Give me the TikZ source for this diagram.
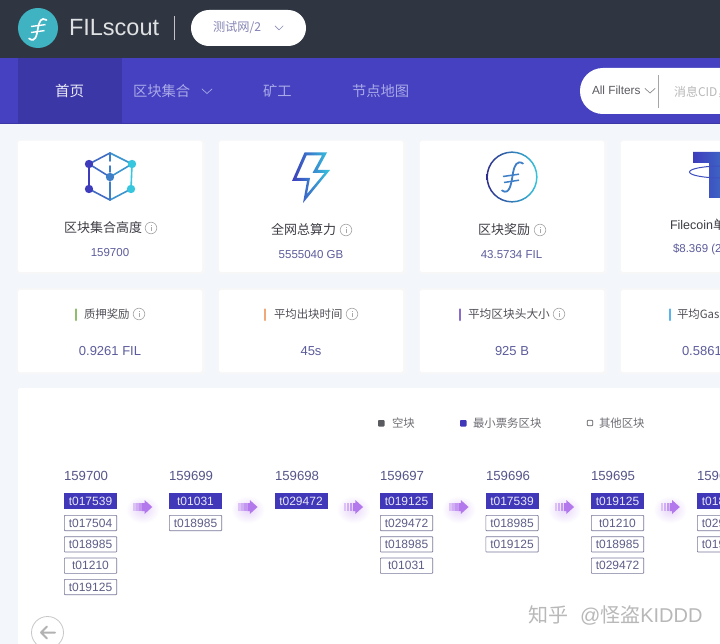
\documentclass[tikz,border=0pt]{standalone}
\usepackage{fontspec}
\setmainfont{Liberation Sans}
\newfontfamily\cjk{Noto Sans CJK SC}
\usetikzlibrary{calc}
\definecolor{bgpage}{HTML}{F3F6FB}
\definecolor{hdr}{HTML}{2F3642}
\definecolor{navblue}{HTML}{4641C0}
\definecolor{navsel}{HTML}{3C37A6}
\definecolor{navtxt}{HTML}{A9A9E8}
\definecolor{lbl}{HTML}{3D3D45}
\definecolor{val}{HTML}{5C5C9C}
\definecolor{colh}{HTML}{56568A}
\definecolor{blkb}{HTML}{77779A}
\definecolor{blkt}{HTML}{5E5E88}
\definecolor{blkfill}{HTML}{4038B8}
\definecolor{igray}{HTML}{A8A8A8}
\definecolor{cubeL}{HTML}{3E3CBC}
\definecolor{cubeM}{HTML}{3F7FC8}
\definecolor{cubeR}{HTML}{36C6DE}
\definecolor{arrowp}{HTML}{B278EC}
\definecolor{logoc}{HTML}{40B3C3}
\definecolor{HTMLgreen}{HTML}{8EC06C}
\definecolor{HTMLorange}{HTML}{F0A878}
\definecolor{HTMLpurple}{HTML}{8B6CC8}
\definecolor{HTMLblue}{HTML}{5AB4EC}
\newcommand{\fsz}[1]{\fontsize{#1}{#1}\selectfont}
\tikzset{
  x=1pt,y=-1pt,
  every node/.style={inner sep=0pt,outer sep=0pt},
  card/.style={fill=white,anchor=north west,rounded corners=1.5pt,minimum height=#1},
  cardshadow/.style={fill=black!3,rounded corners=2pt},
  navlabel/.style={text=navtxt,font=\cjk\fsz{14.3}},
  title/.style={text=lbl,font=\cjk\fsz{13},anchor=west},
  smalltitle/.style={text=lbl!90,font=\cjk\fsz{11.4},anchor=west},
  value/.style={text=val,font=\fsz{11.5}},
  bigvalue/.style={text=val,font=\fsz{13}},
  legendtxt/.style={text=lbl!75,font=\cjk\fsz{11.4},anchor=west},
  colhead/.style={text=colh,font=\fsz{13.2},anchor=west},
  blkon/.style={fill=blkfill,text=white!88!blkfill,minimum width=53pt,minimum height=16pt,font=\fsz{12}},
  blkoff/.style={fill=white,draw=blkb,line width=.7pt,text=blkt,minimum width=52.3pt,minimum height=15.3pt,rounded corners=.6pt,font=\fsz{12}},
  chev/.style={draw=#1,line width=.7pt,line cap=round,line join=round},
  pics/info/.style={code={
    \draw[igray,line width=.6pt] (0,0) circle[radius=5.8];
    \draw[igray,line width=.8pt] (0,-2.8) -- (0,-2) (0,-.8) -- (0,3);
  }},
  pics/flowarrow/.style={code={
    \shade[inner color=arrowp!30,outer color=white] (0,2.5) ellipse[x radius=17,y radius=14];
    \fill[arrowp!45] (-9.5,-4) rectangle (-7,4);
    \fill[arrowp!60] (-6.4,-4) rectangle (-3.9,4);
    \fill[arrowp!78] (-3.3,-4) rectangle (-.8,4);
    \fill[arrowp] (-.3,-4) -- (2,-4) -- (2,-7) -- (9.8,0) -- (2,7) -- (2,4) -- (-.3,4) -- cycle;
  }},
}
\begin{document}
\begin{tikzpicture}
\useasboundingbox (0,0) rectangle (720,644);
\clip (0,0) rectangle (720,644);
\fill[bgpage] (0,0) rectangle (720,644);
% header
\fill[hdr] (0,0) rectangle (720,58);
\fill[navblue] (0,58) rectangle (720,123.5);
\fill[navsel] (18,58) rectangle (122,123.5);
\fill[navsel] (0,123) rectangle (720,124);
% logo
\fill[logoc] (38,28) circle[radius=20];
\draw[white,line width=1.7pt,line cap=round] (46.5,20) .. controls (41,17) and (39.5,21) .. (38,28) .. controls (36.5,36) and (35.5,43) .. (29,38.5);
\draw[white,line width=1.4pt] (31,26.5) -- (45.5,24.6) (31,32.5) -- (44.5,30.6);
\node[text=white!85!hdr,font=\fsz{23.5},anchor=west] (brand) at (69,28) {FILscout};
\draw[white!70!hdr,line width=.8pt] (174,16) -- (174,40);
\fill[white,rounded corners=17.9pt] (191,10) rectangle (306,46);
\node[text=val!75,font=\cjk\fsz{12.2},anchor=west] (net) at (213,28) {测试网/2};
\draw[chev=val!70] (275,26) -- (279,30) -- (283,26);
% nav
\node[text=white!90!navblue,font=\cjk\fsz{14.5}] (home) at (69.5,91) {首页};
\node[navlabel,anchor=west] (nav1) at (133,91) {区块集合};
\draw[chev=navtxt] (202,89) -- (207,93.5) -- (212,89);
\node[navlabel,anchor=west] (nav2) at (263,91) {矿工};
\node[navlabel,anchor=west] (nav3) at (352,91) {节点地图};
% search
\fill[white,rounded corners=22.9pt] (580,68) rectangle (780,114);
\node[text=lbl!85,font=\fsz{11.8},anchor=west] (filters) at (592,90.5) {All Filters};
\draw[chev=lbl!60] (645,88.5) -- (650,93) -- (655,88.5);
\draw[black!35,line width=.6pt] (658,75) -- (658,108);
\node[text=black!28,font=\cjk\fsz{12},anchor=west] (search) at (674,92) {消息CID，};
% cards
\foreach \x in {18,219,420,621}{
  \fill[cardshadow] (\x-1,140) rectangle (\x+187,274);
  \fill[cardshadow] (\x-1,288) rectangle (\x+187,374);
}
\node[card=131pt,minimum width=184pt] (c1) at (18,141) {};
\node[card=131pt,minimum width=184pt] (c2) at (219,141) {};
\node[card=131pt,minimum width=184pt] (c3) at (420,141) {};
\node[card=131pt,minimum width=184pt] (c4) at (621,141) {};
% cube icon
\begin{scope}[line width=1.6pt,line cap=round]
\draw[cubeL] (89,164) -- (89,189);
\draw[cubeR] (132,164) -- (131,189);
\draw[cubeM!70!cubeL] (89,164) -- (110,153);
\draw[cubeM!70!cubeR] (110,153) -- (132,164);
\draw[cubeM!70!cubeL] (89,189) -- (110,200);
\draw[cubeM!70!cubeR] (110,200) -- (131,189);
\draw[cubeM!70!cubeL] (89,164) -- (110,177);
\draw[cubeM!70!cubeR] (110,177) -- (132,164);
\draw[cubeM] (110,153) -- (110,161) (110,166) -- (110,172) (110,182) -- (110,200);
\end{scope}
\fill[cubeL] (89,164) circle[radius=4.2] (89,189) circle[radius=4.2];
\fill[cubeR] (132,164) circle[radius=4.2] (131,189) circle[radius=4.2];
\fill[cubeM] (110,177) circle[radius=4.2];
% bolt icon
\path[left color=cubeL,right color=cubeR,even odd rule]
  (304.5,152.5) -- (327,152.5) -- (317.5,170) -- (330,170) -- (303,203) -- (307,181) -- (292,181) -- cycle
  (306.5,155.5) -- (322,155.5) -- (312.5,173) -- (324.5,173) -- (307,194) -- (310,178) -- (296.5,178) -- cycle;
% ring icon
\path[left color=cubeL!75!black,right color=cubeR,even odd rule]
  (512,177) circle[radius=25.6] (512,177) circle[radius=24.1];
\draw[cubeM,line width=1.8pt,line cap=round] (523,163.5) .. controls (517,160) and (514.5,165) .. (513,173) .. controls (511.5,182) and (510,196) .. (502,190.5);
\draw[cubeM,line width=1.5pt] (503,176.5) -- (519,174.2) (504,182.5) -- (519,180.2);
% T icon
\path[left color=cubeL,right color=cubeM!60!cubeR]
  (693,152) -- (760,152) -- (760,163) -- (737,163) -- (737,198) -- (709,198) -- (709,163) -- (693,163) -- cycle;
\draw[cubeL!70!cubeM,line width=1pt] (722,172) ellipse[x radius=32.5,y radius=6];
% row 1 labels
\node[title] (t1) at (64,228) {\cjk 区块集合高度};
\pic at (151,228) {info};
\node[value] (v1) at (110,253) {159700};
\node[title] (t2) at (271,230) {\cjk 全网总算力};
\pic at (346,230) {info};
\node[value] (v2) at (311,254.5) {5555040 GB};
\node[title] (t3) at (478,230) {\cjk 区块奖励};
\pic at (540,230) {info};
\node[value] (v3) at (511.5,255) {43.5734 FIL};
\node[text=lbl,font=\fsz{12.5},anchor=west] (t4) at (670,225) {Filecoin{\cjk 单}};
\node[value,anchor=west] (v4) at (673,249.5) {\$8.369 (2};
% row 2
\node[card=82pt,minimum width=184pt] (d1) at (18,290) {};
\node[card=82pt,minimum width=184pt] (d2) at (219,290) {};
\node[card=82pt,minimum width=184pt] (d3) at (420,290) {};
\node[card=82pt,minimum width=184pt] (d4) at (621,290) {};
\draw[HTMLgreen,line width=2.6pt,line cap=round] (76,309.5) -- (76,320);
\draw[HTMLorange,line width=2.6pt,line cap=round] (265,309.5) -- (265,320);
\draw[HTMLpurple,line width=2.6pt,line cap=round] (460,309.5) -- (460,320);
\draw[HTMLblue,line width=2.6pt,line cap=round] (670,309.5) -- (670,320);
\node[smalltitle] (s1) at (84,314) {质押奖励};
\pic at (139,314) {info};
\node[bigvalue] (w1) at (110,351) {0.9261 FIL};
\node[smalltitle] (s2) at (274,314) {平均出块时间};
\pic at (352,314) {info};
\node[bigvalue] (w2) at (311,351) {45s};
\node[smalltitle,font=\cjk\fsz{11.7}] (s3) at (468,314) {平均区块头大小};
\pic at (559,314) {info};
\node[bigvalue] (w3) at (512,351) {925 B};
\node[smalltitle] (s4) at (677,314) {平均Gas};
\node[bigvalue,anchor=west] (w4) at (682,351) {0.5861};
% panel
\fill[white,rounded corners=1.5pt] (18,388) rectangle (740,660);
% legend
\fill[lbl!85,rounded corners=.8pt] (378,420) rectangle (384.5,426.5);
\node[legendtxt] (l1) at (392,423) {空块};
\fill[blkfill,rounded corners=.8pt] (460,420) rectangle (466.5,426.5);
\node[legendtxt] (l2) at (473,423) {最小票务区块};
\draw[lbl!85,line width=.7pt,rounded corners=.8pt] (587.3,420.3) rectangle (592.7,425.7);
\node[legendtxt] (l3) at (599,423) {其他区块};
% columns
\node[colhead] (h1) at (64,475.5) {159700};
\node[colhead] (h2) at (169,475.5) {159699};
\node[colhead] (h3) at (275,475.5) {159698};
\node[colhead] (h4) at (380,475.5) {159697};
\node[colhead] (h5) at (486,475.5) {159696};
\node[colhead] (h6) at (591,475.5) {159695};
\node[colhead] (h7) at (697,475.5) {159694};
% arrows sit below the blocks' glow
\node[blkon] (a1) at (90.5,501) {t017539};
\node[blkon] (b1) at (195.5,501) {t01031};
\node[blkon] (c1b) at (301,501) {t029472};
\node[blkon] (e1) at (406.5,501) {t019125};
\node[blkon] (f1) at (512,501) {t017539};
\node[blkon] (g1) at (617.5,501) {t019125};
\node[blkon] (k1) at (723.5,501) {t018985};
\pic at ($(a1.east)!.5!(b1.west)+(-.5,6)$) {flowarrow};
\pic at ($(b1.east)!.5!(c1b.west)+(-.5,6)$) {flowarrow};
\pic at ($(c1b.east)!.5!(e1.west)+(-.5,6)$) {flowarrow};
\pic at ($(e1.east)!.5!(f1.west)+(-.5,6)$) {flowarrow};
\pic at ($(f1.east)!.5!(g1.west)+(-.5,6)$) {flowarrow};
\pic at ($(g1.east)!.5!(k1.west)+(-.5,6)$) {flowarrow};
\node[blkoff] (a2) at (90.5,523) {t017504};
\node[blkoff] (a3) at (90.5,544.3) {t018985};
\node[blkoff] (a4) at (90.5,565.7) {t01210};
\node[blkoff] (a5) at (90.5,587) {t019125};
\node[blkoff] (b2) at (195.5,523) {t018985};
\node[blkoff] (e2) at (406.5,523) {t029472};
\node[blkoff] (e3) at (406.5,544.3) {t018985};
\node[blkoff] (e4) at (406.5,565.7) {t01031};
\node[blkoff] (f2) at (512,523) {t018985};
\node[blkoff] (f3) at (512,544.3) {t019125};
\node[blkoff] (g2) at (617.5,523) {t01210};
\node[blkoff] (g3) at (617.5,544.3) {t018985};
\node[blkoff] (g4) at (617.5,565.7) {t029472};
\node[blkoff] (k2) at (723.5,523) {t029472};
\node[blkoff] (k3) at (723.5,544.3) {t019125};
% back button
\draw[black!22,line width=.8pt,fill=white] (47.5,632.5) circle[radius=16];
\draw[black!30,line width=2pt,line cap=round,line join=round] (41,632.5) -- (55,632.5) (47,626.5) -- (41,632.5) -- (47,638.5);
% watermark
\node[text=black!28,font=\fsz{20},anchor=west] (wm) at (528,615) {{\cjk 知乎}\hspace{12pt}@{\cjk 怪盗}KIDDD};
\end{tikzpicture}
\end{document}
